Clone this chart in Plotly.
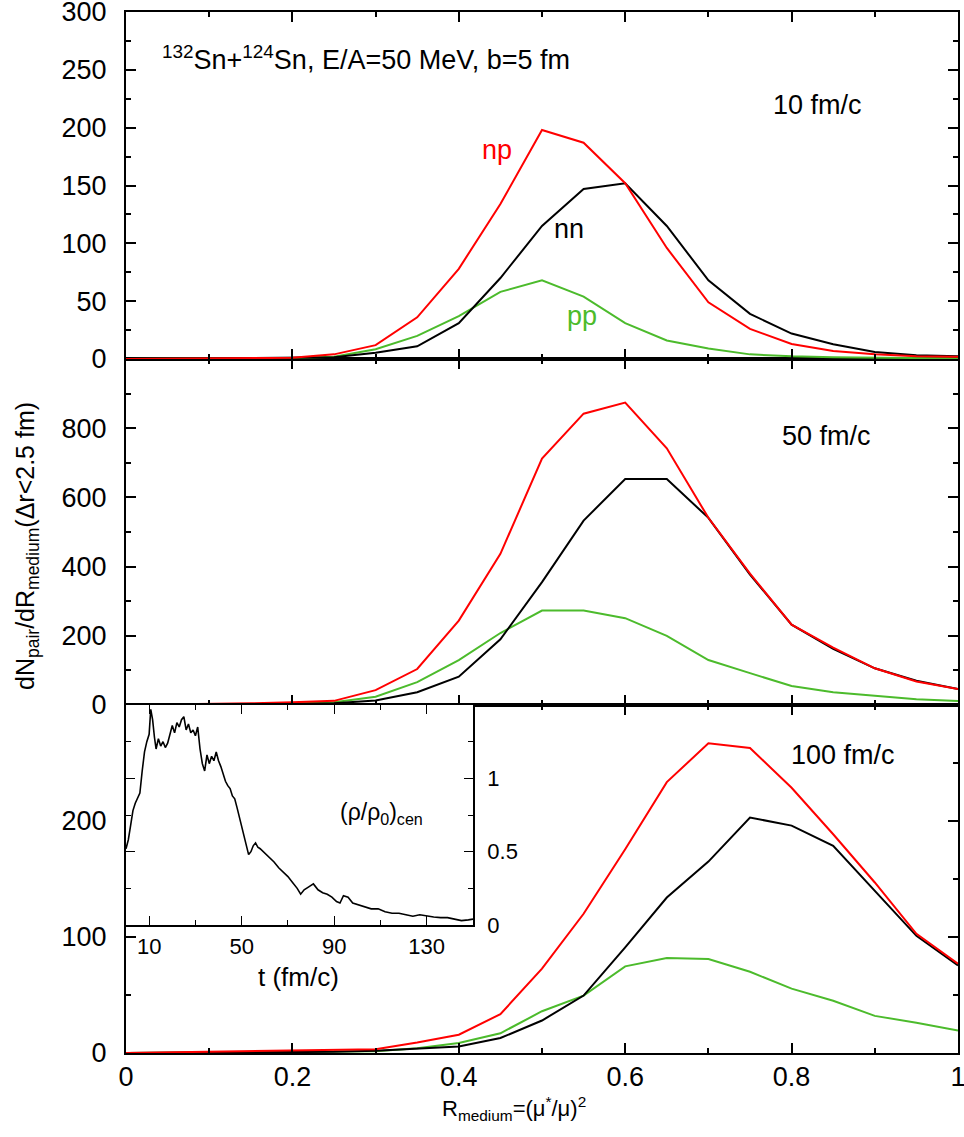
import plotly.graph_objects as go

# ---------------- data ----------------
r_medium = [0.0, 0.05, 0.10, 0.15, 0.20, 0.25, 0.30, 0.35, 0.40, 0.45, 0.50,
            0.55, 0.60, 0.65, 0.70, 0.75, 0.80, 0.85, 0.90, 0.95, 1.00]

# 10 fm/c
np_10 = [0, 0.3, 0.6, 0.8, 1, 4, 12, 36, 78, 134, 198, 187, 152, 96, 49, 26, 13, 7, 4, 2.3, 2]
nn_10 = [0, 0.2, 0.4, 0.5, 0.7, 1.5, 5.5, 11, 31, 70, 115, 147, 152, 115, 68, 39, 22, 12.7, 6, 3.2, 2.3]
pp_10 = [0, 0.2, 0.4, 0.6, 0.8, 2, 8.4, 20, 37, 58, 68, 54, 31, 16, 9, 4, 2.3, 1.5, 1, 0.7, 0.5]

# 50 fm/c
np_50 = [0, 1, 3, 5, 8, 12, 43, 104, 244, 437, 712, 842, 874, 742, 541, 380, 232, 166, 106, 68, 46]
nn_50 = [0, 0.5, 1, 2, 3, 5, 13, 37, 82, 190, 355, 533, 653, 653, 541, 377, 232, 162, 106, 70, 46]
pp_50 = [0, 0.5, 1, 2, 4, 8, 24, 66, 130, 208, 273, 273, 251, 200, 130, 92, 55, 37, 26, 16.4, 11.6]

# 100 fm/c
np_100 = [0, 0.5, 1.2, 1.3, 1.6, 2.3, 3.2, 9, 15.8, 33.5, 72.7, 120, 175.7, 233.5, 267, 263, 228.6, 188.6, 147, 102.7, 77]
nn_100 = [0, 0.2, 0.4, 0.6, 0.8, 1, 2, 3.5, 5.6, 12.9, 28, 49.5, 91, 134, 165, 203, 196, 178.5, 140, 101, 75.5]
pp_100 = [0, 0.2, 0.5, 0.7, 1, 1.2, 1.5, 4, 8.6, 17, 36, 49.5, 74.7, 81.8, 81, 70, 55.5, 45, 32, 26, 19.3]

# inset: central density vs time
t_fm = [0, 1, 2, 3, 4, 5, 6, 7, 8, 9, 10, 10.7, 11.5, 12.3, 13, 14, 15, 16, 17, 18, 19, 20,
        21, 22, 23, 24, 25, 26, 27, 28, 29, 30, 31, 32, 33, 34, 35, 36, 37, 38, 39, 40,
        41, 42, 43, 44, 45, 46, 47, 48, 49, 50, 51, 52, 53, 54, 55, 56, 57, 58, 60, 62,
        64, 66, 68, 70, 72, 74, 75.5, 77, 79, 81, 83, 85, 87, 89, 91, 92.5, 94, 96, 98,
        100, 103, 106, 109, 112, 115, 118, 121, 124, 127, 130, 133, 136, 139, 142, 145, 148, 150]
rho_cen = [0.52, 0.58, 0.68, 0.78, 0.83, 0.86, 0.90, 1.05, 1.18, 1.25, 1.30, 1.47, 1.40, 1.28,
           1.20, 1.27, 1.22, 1.25, 1.21, 1.24, 1.30, 1.36, 1.31, 1.38, 1.35, 1.40, 1.42, 1.33,
           1.37, 1.31, 1.33, 1.29, 1.35, 1.20, 1.10, 1.05, 1.16, 1.10, 1.15, 1.12, 1.18, 1.12,
           1.08, 1.02, 0.98, 0.95, 0.93, 0.88, 0.86, 0.80, 0.74, 0.66, 0.60, 0.55, 0.48, 0.50,
           0.54, 0.56, 0.53, 0.52, 0.49, 0.46, 0.43, 0.39, 0.36, 0.33, 0.29, 0.25, 0.21, 0.24,
           0.26, 0.28, 0.24, 0.22, 0.21, 0.19, 0.16, 0.15, 0.20, 0.19, 0.15, 0.14, 0.13, 0.11,
           0.11, 0.09, 0.08, 0.08, 0.07, 0.06, 0.07, 0.06, 0.055, 0.05, 0.05, 0.04, 0.03, 0.035, 0.04]

x_major = [0, 0.2, 0.4, 0.6, 0.8, 1.0]
x_major_text = ["0", "0.2", "0.4", "0.6", "0.8", "1"]

# ---------------- layout geometry ----------------
# page body margin is removed (post_script), so figure px == page px
W, H = 964, 1137
P_L, P_R, P_T, P_B = 126, 958, 12, 1053
ML, MR, MT, MB = P_L, W - P_R, P_T, H - P_B
PW, PH = P_R - P_L, P_B - P_T


def pyf(p):
    return (P_B - p) / PH


def pxf(p):
    return (p - P_L) / PW


d_bot = [0, pyf(705)]
d_mid = [pyf(705), pyf(359)]
d_top = [pyf(359), 1]
d_ins_y = [pyf(925), pyf(705)]
d_ins_x = [0, pxf(473)]

FONT = "Liberation Sans, Arial, Helvetica, sans-serif"
RED, BLACK, GREEN = "#ff0000", "#000000", "#4cbb2c"

fig = go.Figure()

panels = [("x", "y", np_100, nn_100, pp_100),
          ("x2", "y2", np_50, nn_50, pp_50),
          ("x3", "y3", np_10, nn_10, pp_10)]
for xa, ya, a, b, c in panels:
    fig.add_trace(go.Scatter(x=r_medium, y=c, mode="lines", line=dict(color=GREEN, width=2),
                             xaxis=xa, yaxis=ya, showlegend=False))
    fig.add_trace(go.Scatter(x=r_medium, y=b, mode="lines", line=dict(color=BLACK, width=2),
                             xaxis=xa, yaxis=ya, showlegend=False))
    fig.add_trace(go.Scatter(x=r_medium, y=a, mode="lines", line=dict(color=RED, width=2),
                             xaxis=xa, yaxis=ya, showlegend=False))

fig.add_trace(go.Scatter(x=t_fm, y=rho_cen, mode="lines", line=dict(color=BLACK, width=1.6),
                         xaxis="x4", yaxis="y4", showlegend=False))

tick_font = dict(family=FONT, size=27, color="black")


def xaxis(anchor, labels):
    return dict(domain=[0, 1], range=[0, 1], anchor=anchor, showline=True, linewidth=2.2,
                linecolor="black", mirror="ticks", ticks="inside", ticklen=10, tickwidth=1.5,
                tickcolor="black", tickmode="array", tickvals=x_major, ticktext=x_major_text,
                showticklabels=labels, tickfont=tick_font, ticklabelstandoff=-2,
                ticklabeloverflow="allow",
                minor=dict(ticks="inside", dtick=0.1, tick0=0, ticklen=5, tickwidth=1.5,
                           tickcolor="black"),
                showgrid=False, zeroline=False)


def yaxis(anchor, dom, rng, major, minor):
    return dict(domain=dom, range=rng, anchor=anchor, showline=True, linewidth=2.2,
                linecolor="black", mirror="ticks", ticks="inside", ticklen=10, tickwidth=1.5,
                tickcolor="black", tickmode="array", tickvals=major,
                tickfont=tick_font, ticklabelstandoff=12, ticklabeloverflow="allow",
                minor=dict(ticks="inside", tickmode="array", tickvals=minor, ticklen=5,
                           tickwidth=1.5, tickcolor="black"),
                showgrid=False, zeroline=False)


fig.update_layout(
    width=W, height=H,
    margin=dict(l=ML, r=MR, t=MT, b=MB, autoexpand=False),
    paper_bgcolor="white", plot_bgcolor="white",
    font=dict(family=FONT, color="black", size=27),
    xaxis=xaxis("y", True),
    xaxis2=xaxis("y2", False),
    xaxis3=xaxis("y3", False),
    yaxis=yaxis("x", d_bot, [0, 300], [0, 100, 200], [50, 150, 250]),
    yaxis2=yaxis("x2", d_mid, [0, 1000], [0, 200, 400, 600, 800], [100, 300, 500, 700, 900]),
    yaxis3=yaxis("x3", d_top, [0, 300], [0, 50, 100, 150, 200, 250, 300],
                 [25, 75, 125, 175, 225, 275]),
    xaxis4=dict(domain=d_ins_x, range=[0, 150], anchor="y4", showline=True, linewidth=1.8,
                linecolor="black", mirror="ticks", ticks="inside", ticklen=9, tickwidth=1.2,
                tickcolor="black", tickmode="array", tickvals=[10, 50, 90, 130],
                tickfont=dict(family=FONT, size=22, color="black"), ticklabelstandoff=1,
                ticklabeloverflow="allow",
                minor=dict(ticks="inside", tickmode="array", tickvals=[30, 70, 110, 150],
                           ticklen=5, tickwidth=1.2, tickcolor="black"),
                showgrid=False, zeroline=False),
    yaxis4=dict(domain=d_ins_y, range=[0, 1.5], anchor="x4", side="right", showline=True,
                linewidth=1.8, linecolor="black", mirror="ticks", ticks="inside", ticklen=9,
                tickwidth=1.2, tickcolor="black", tickmode="array", tickvals=[0, 0.5, 1],
                tickfont=dict(family=FONT, size=22, color="black"), ticklabelstandoff=8,
                ticklabeloverflow="allow",
                minor=dict(ticks="inside", tickmode="array", tickvals=[0.25, 0.75, 1.25],
                           ticklen=5, tickwidth=1.2, tickcolor="black"),
                showgrid=False, zeroline=False),
)

ann_font = dict(family=FONT, size=27, color="black")
annotations = [
    dict(text="<sup>132</sup>Sn+<sup>124</sup>Sn, E/A=50 MeV, b=5 fm", xref="x3", yref="y3",
         x=0.041, y=260, xanchor="left", yanchor="middle", font=ann_font),
    dict(text="10 fm/c", xref="x3", yref="y3", x=0.831, y=220, font=ann_font),
    dict(text="np", xref="x3", yref="y3", x=0.4465, y=181, font=dict(family=FONT, size=27, color=RED)),
    dict(text="nn", xref="x3", yref="y3", x=0.532, y=112, font=ann_font),
    dict(text="pp", xref="x3", yref="y3", x=0.548, y=37.6, font=dict(family=FONT, size=27, color=GREEN)),
    dict(text="50 fm/c", xref="x2", yref="y2", x=0.842, y=778, font=ann_font),
    dict(text="100 fm/c", xref="x", yref="y", x=0.862, y=257, font=ann_font),
    dict(text="(ρ/ρ<sub>0</sub>)<sub>cen</sub>", xref="paper", yref="paper",
         x=pxf(381), y=pyf(813), font=dict(family=FONT, size=23, color="black")),
    dict(text="t (fm/c)", xref="paper", yref="paper", x=pxf(298), y=pyf(977),
         font=dict(family=FONT, size=26, color="black")),
    dict(text="dN<sub>pair</sub>/dR<sub>medium</sub>(Δr&lt;2.5 fm)", xref="paper", yref="paper",
         x=pxf(27), y=pyf(546), textangle=-90, font=dict(family=FONT, size=25, color="black")),
    dict(text="R<sub>medium</sub>=(μ<sup>*</sup>/μ)<sup>2</sup>", xref="paper", yref="paper",
         x=pxf(514), y=pyf(1108), font=dict(family=FONT, size=22, color="black")),
]
for a in annotations:
    a.setdefault("showarrow", False)
    a.setdefault("xanchor", "center")
    a.setdefault("yanchor", "middle")
fig.update_layout(annotations=annotations)

fig.write_html("out.html", config={"displayModeBar": False},
               post_script="document.body.style.margin='0px';")
